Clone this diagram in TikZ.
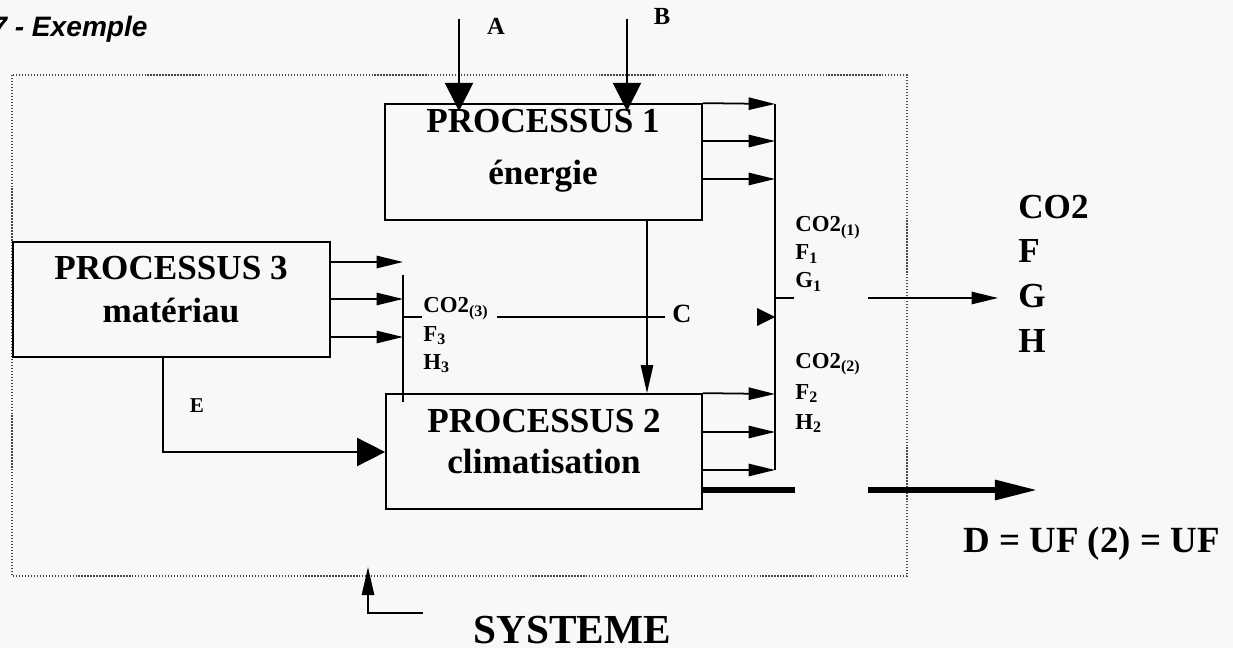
\documentclass[tikz,border=0pt]{standalone}
\usepackage{fontspec}
\setmainfont{Liberation Serif}
\newfontfamily\arialf{Liberation Sans}
\usetikzlibrary{arrows.meta}
\definecolor{bg}{RGB}{248,248,248}
\definecolor{framec}{RGB}{70,70,70}
\tikzset{
  pbox/.style={draw=black,line width=1pt},
  ln/.style={draw=black,line width=1pt},
  bigarr/.style={ln,-{Triangle[length=16pt,width=16pt]}},
  smallarr/.style={ln,-{Triangle[length=15pt,width=7pt]}},
  thickarr/.style={draw=black,line width=3pt,-{Triangle[length=24pt,width=11pt]}},
  ptitle/.style={font=\bfseries\fontsize{20}{24}\selectfont,anchor=base,inner sep=0pt},
  lab/.style={font=\bfseries\fontsize{13}{15}\selectfont,anchor=base west,inner sep=0pt},
  biglab/.style={font=\bfseries\fontsize{20}{24}\selectfont,anchor=base west,inner sep=0pt},
  letter/.style={font=\bfseries\fontsize{14}{16}\selectfont,anchor=base,inner sep=0pt},
}
\begin{document}
\begin{tikzpicture}[x=0.02cm,y=-0.02cm]
\useasboundingbox (0,0) rectangle (1233,648);
\fill[bg] (0,0) rectangle (1233,648);

% title
\node[font=\arialf\bfseries\itshape\fontsize{16}{19}\selectfont,anchor=base east,inner sep=0pt] (title) at (148,37) {7 - Exemple};

% system frame
\draw[framec,line width=0.7pt,densely dotted] (12,75) rectangle (907,576);

% process boxes
\node[pbox,minimum width=6.34cm,minimum height=2.32cm] (p1) at (543.5,162) {};
\node[pbox,minimum width=6.32cm,minimum height=2.30cm] (p2) at (544,451.5) {};
\node[pbox,minimum width=6.34cm,minimum height=2.30cm] (p3) at (171.5,299.5) {};

\node[ptitle] (p1a) at (543,133) {PROCESSUS 1};
\node[ptitle] (p1b) at (543,185) {énergie};
\node[ptitle] (p2a) at (544,432) {PROCESSUS 2};
\node[ptitle] (p2b) at (544,473) {climatisation};
\node[ptitle] (p3a) at (171,280) {PROCESSUS 3};
\node[ptitle] (p3b) at (171,322) {matériau};

% coordinates
\coordinate (aTop) at (459,19);
\coordinate (aEnd) at (459,111);
\coordinate (bTop) at (627,19);
\coordinate (bEnd) at (627,111);

\coordinate (c1a) at (775,104);
\coordinate (c1b) at (775,141);
\coordinate (c1c) at (775,179);
\coordinate (c2a) at (775,394);
\coordinate (c2b) at (775,432);
\coordinate (c2c) at (775,470);
\coordinate (c3a) at (403,262);
\coordinate (c3b) at (403,299);
\coordinate (c3c) at (403,337);

% inputs A and B
\draw[bigarr] (aTop) -- (aEnd);
\draw[bigarr] (bTop) -- (bEnd);
\node[letter] (la) at (496,35) {A};
\node[letter] (lb) at (662,25) {B};

% outputs of P1
\draw[smallarr] (p1.north east) -- (c1a);
\draw[smallarr] (p1.east |- c1b) -- (c1b);
\draw[smallarr] (p1.east |- c1c) -- (c1c);
% outputs of P2
\draw[smallarr] (p2.north east) -- (c2a);
\draw[smallarr] (p2.east |- c2b) -- (c2b);
\draw[smallarr] (p2.east |- c2c) -- (c2c);
% right collector
\draw[ln] (c1a) -- (c2c);
\coordinate (t1) at (794,298);
\draw[ln] (775,298) -- (t1);
\coordinate (gStart) at (868,298);
\coordinate (gEnd) at (998,298);
\draw[smallarr] (gStart) -- (gEnd);
\fill (757,308) -- (775,317) -- (757,326) -- cycle;

% outputs of P3
\draw[smallarr] (p3.east |- c3a) -- (c3a);
\draw[smallarr] (p3.east |- c3b) -- (c3b);
\draw[smallarr] (p3.east |- c3c) -- (c3c);
\draw[ln] (403,275) -- (403,402);
\draw[ln] (403,317) -- (422,317);
\coordinate (cS) at (497,317);
\coordinate (cE) at (665,317);
\draw[ln] (cS) -- (cE);
\node[font=\bfseries\fontsize{15}{17}\selectfont,anchor=base,inner sep=0pt] (lc) at (682,322) {C};

% P1 -> P2
\draw[ln,-{Triangle[length=16pt,width=7pt]}] (p1.south -| 647,0) -- (p2.north -| 647,0);

% E : P3 -> P2
\coordinate (eCorner) at (163,452);
\draw[bigarr] (p3.south -| eCorner) -- (eCorner) -- (p2.west |- eCorner);
\node[font=\bfseries\fontsize{12}{14}\selectfont,anchor=base,inner sep=0pt] (le) at (197,412) {E};

% D thick output
\coordinate (dA) at (795,490);
\coordinate (dS) at (868,490);
\coordinate (dE) at (1037,490);
\draw[line width=3pt] (p2.east |- dA) -- (dA);
\draw[thickarr] (dS) -- (dE);

% small labels
\node[lab] (co1) at (795,232) {CO2\textsubscript{(1)}};
\node[lab] (f1) at (795,260) {F\textsubscript{1}};
\node[lab] (g1) at (795,288) {G\textsubscript{1}};
\node[lab] (co2) at (795,368) {CO2\textsubscript{(2)}};
\node[lab] (f2) at (795,399) {F\textsubscript{2}};
\node[lab] (h2) at (795,429) {H\textsubscript{2}};
\node[lab] (co3) at (423,313) {CO2\textsubscript{(3)}};
\node[lab] (f3) at (423,341) {F\textsubscript{3}};
\node[lab] (h3) at (423,369) {H\textsubscript{3}};

% big right labels
\node[biglab] (rco) at (1018,219) {CO2};
\node[biglab] (rf) at (1018,263) {F};
\node[biglab] (rg) at (1018,308) {G};
\node[biglab] (rh) at (1018,352) {H};

\node[font=\bfseries\fontsize{21}{25}\selectfont,anchor=base west,inner sep=0pt] (ld) at (963,552) {D = UF (2) = UF};

% SYSTEME
\coordinate (sA) at (423,613);
\coordinate (sB) at (368,613);
\coordinate (sC) at (368,567);
\draw[ln,-{Triangle[length=16pt,width=7pt]}] (sA) -- (sB) -- (sC);
\node[font=\bfseries\fontsize{23.5}{28}\selectfont,anchor=base west,inner sep=0pt] (ls) at (473,643) {SYSTEME};
\end{tikzpicture}
\end{document}
